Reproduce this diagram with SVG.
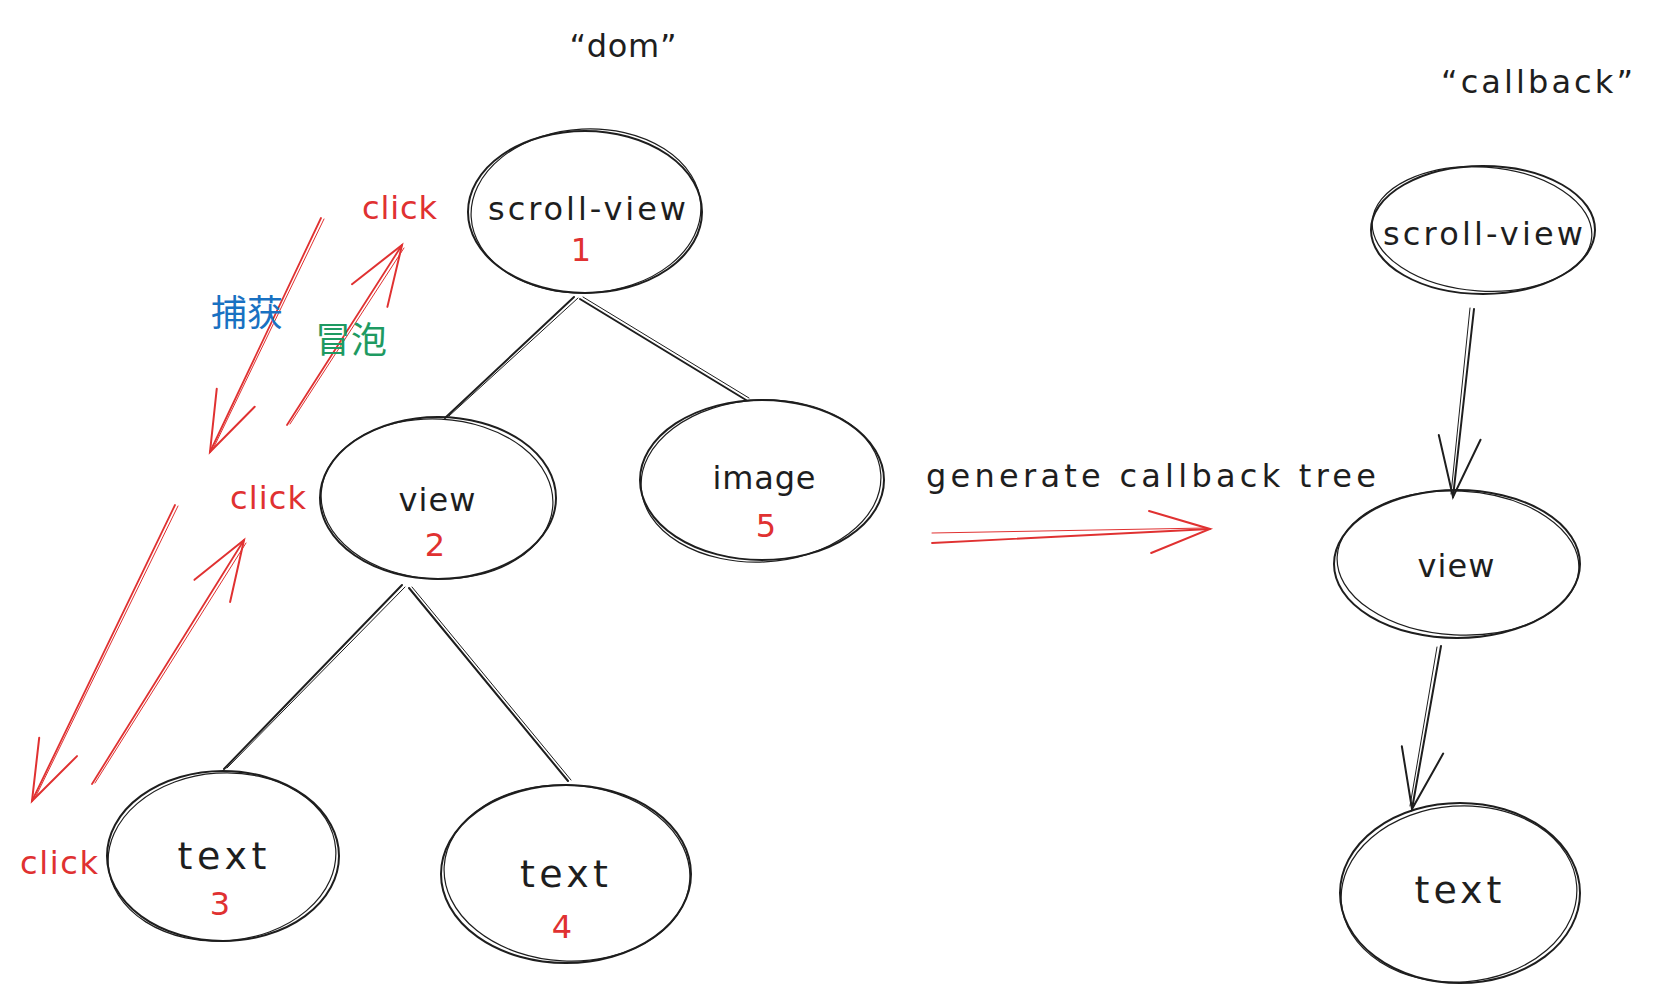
<svg xmlns="http://www.w3.org/2000/svg" width="1654" height="999" viewBox="0 0 1654 999">
<style>
.bg{fill:#ffffff}
.n1{fill:none;stroke:#1e1e1e;stroke-width:2}
.n2{fill:none;stroke:#1e1e1e;stroke-width:1.2}
.blk{fill:none;stroke:#1e1e1e;stroke-width:2;stroke-linecap:round}
.blk2{fill:none;stroke:#1e1e1e;stroke-width:1;stroke-linecap:round}
.red{fill:none;stroke:#e03131;stroke-width:1.8;stroke-linecap:round}
.red2{fill:none;stroke:#e03131;stroke-width:1;stroke-linecap:round}
.t{font-family:"DejaVu Sans","Liberation Sans",sans-serif;font-size:32px;fill:#1e1e1e;text-anchor:middle}
.tb{font-size:38px}
.num{font-family:"DejaVu Sans","Liberation Sans",sans-serif;font-size:32px;fill:#e03131;text-anchor:middle}
.click{font-family:"DejaVu Sans","Liberation Sans",sans-serif;font-size:32px;fill:#e03131}
.cjk{font-family:"Noto Sans CJK SC","Noto Sans CJK JP",sans-serif;font-size:36px}
</style>
<defs>
<marker id="ahr" markerUnits="userSpaceOnUse" viewBox="0 0 80 60" markerWidth="80" markerHeight="60" refX="70" refY="30" orient="auto" overflow="visible">
<path d="M10,9 L70,30 L10,51" fill="none" stroke="#e03131" stroke-width="2" stroke-linecap="round"/>
</marker>
<marker id="ahk" markerUnits="userSpaceOnUse" viewBox="0 0 80 60" markerWidth="80" markerHeight="60" refX="70" refY="30" orient="auto" overflow="visible">
<path d="M10,9 L70,30 L10,51" fill="none" stroke="#1e1e1e" stroke-width="2" stroke-linecap="round"/>
</marker>
</defs>
<rect class="bg" x="0" y="0" width="1654" height="999"/>

<g id="connectors">
<path class="blk" d="M574,297 L445,418"/>
<path class="blk2" d="M578,298 L449,416"/>
<path class="blk" d="M580,299 L746,400"/>
<path class="blk2" d="M583,297 L749,398"/>
<path class="blk" d="M402,585 L224,769"/>
<path class="blk2" d="M405,587 L227,768"/>
<path class="blk" d="M409,588 L568,781"/>
<path class="blk2" d="M412,587 L571,780"/>
<path class="red" d="M321,218 L210,452" marker-end="url(#ahr)"/>
<path class="red2" d="M324,219 L213,449"/>
<path class="red" d="M287,425 L402,245" marker-end="url(#ahr)"/>
<path class="red2" d="M290,424 L404,248"/>
<path class="red" d="M175,505 L32,801" marker-end="url(#ahr)"/>
<path class="red2" d="M178,506 L35,798"/>
<path class="red" d="M92,784 L244,540" marker-end="url(#ahr)"/>
<path class="red2" d="M95,783 L246,543"/>
<path class="red" d="M932,543 L1210,529" marker-end="url(#ahr)"/>
<path class="red2" d="M932,533 L1206,528"/>
<path class="blk" d="M1474,309 L1453,497" marker-end="url(#ahk)"/>
<path class="blk2" d="M1470,308 L1451,494"/>
<path class="blk" d="M1441,646 L1412,809" marker-end="url(#ahk)"/>
<path class="blk2" d="M1437,647 L1410,806"/>
</g>

<g id="title-dom"><text class="t" x="623" y="57" font-size="34" textLength="107" lengthAdjust="spacing">“dom”</text></g>
<g id="title-callback"><text class="t" x="1537" y="93" font-size="34" textLength="192" lengthAdjust="spacing">“callback”</text></g>

<g id="node-scroll-view-1">
<ellipse class="n1" cx="585" cy="212" rx="117" ry="81"/>
<ellipse class="n2" cx="586" cy="211" rx="115" ry="82" transform="rotate(-3 586 211)"/>
<text class="t" x="587" y="220" textLength="198" lengthAdjust="spacing">scroll-view</text>
<text class="num" x="581" y="261" font-size="34">1</text>
</g>
<g id="node-view-2">
<ellipse class="n1" cx="438" cy="498" rx="118" ry="81"/>
<ellipse class="n2" cx="437" cy="499" rx="116" ry="80" transform="rotate(3 437 499)"/>
<text class="t" x="437" y="511" textLength="77" lengthAdjust="spacing">view</text>
<text class="num" x="435" y="556">2</text>
</g>
<g id="node-image-5">
<ellipse class="n1" cx="762" cy="480" rx="122" ry="80"/>
<ellipse class="n2" cx="761" cy="481" rx="120" ry="81" transform="rotate(-3 761 481)"/>
<text class="t" x="764" y="489" textLength="103" lengthAdjust="spacing">image</text>
<text class="num" x="766" y="537">5</text>
</g>
<g id="node-text-3">
<ellipse class="n1" cx="223" cy="856" rx="116" ry="85"/>
<ellipse class="n2" cx="222" cy="857" rx="114" ry="84" transform="rotate(-4 222 857)"/>
<text class="t tb" x="222" y="869" textLength="89" lengthAdjust="spacing">text</text>
<text class="num" x="220" y="915">3</text>
</g>
<g id="node-text-4">
<ellipse class="n1" cx="566" cy="874" rx="125" ry="89"/>
<ellipse class="n2" cx="567" cy="873" rx="123" ry="88" transform="rotate(3 567 873)"/>
<text class="t tb" x="564" y="887" textLength="88" lengthAdjust="spacing">text</text>
<text class="num" x="562" y="938">4</text>
</g>

<g id="label-click-1"><text class="click" x="362" y="219" textLength="75" lengthAdjust="spacing">click</text></g>
<g id="label-click-2"><text class="click" x="230" y="509" textLength="76" lengthAdjust="spacing">click</text></g>
<g id="label-click-3"><text class="click" x="20" y="874" textLength="78" lengthAdjust="spacing">click</text></g>
<g id="label-capture"><text class="cjk" x="211" y="326" fill="#1971c2">捕获</text></g>
<g id="label-bubble"><text class="cjk" x="315" y="353" fill="#1e9a62">冒泡</text></g>

<g id="label-generate"><text class="t" x="1151" y="487" font-size="34" textLength="450" lengthAdjust="spacing">generate callback tree</text></g>

<g id="node-cb-scroll-view">
<ellipse class="n1" cx="1483" cy="230" rx="112" ry="64"/>
<ellipse class="n2" cx="1482" cy="229" rx="110" ry="62" transform="rotate(4 1482 229)"/>
<text class="t" x="1483" y="245" textLength="200" lengthAdjust="spacing">scroll-view</text>
</g>
<g id="node-cb-view">
<ellipse class="n1" cx="1457" cy="564" rx="123" ry="74"/>
<ellipse class="n2" cx="1458" cy="563" rx="121" ry="72" transform="rotate(3 1458 563)"/>
<text class="t" x="1456" y="577" textLength="77" lengthAdjust="spacing">view</text>
</g>
<g id="node-cb-text">
<ellipse class="n1" cx="1460" cy="893" rx="120" ry="90"/>
<ellipse class="n2" cx="1459" cy="894" rx="118" ry="88" transform="rotate(-4 1459 894)"/>
<text class="t tb" x="1458" y="903" textLength="87" lengthAdjust="spacing">text</text>
</g>
</svg>
